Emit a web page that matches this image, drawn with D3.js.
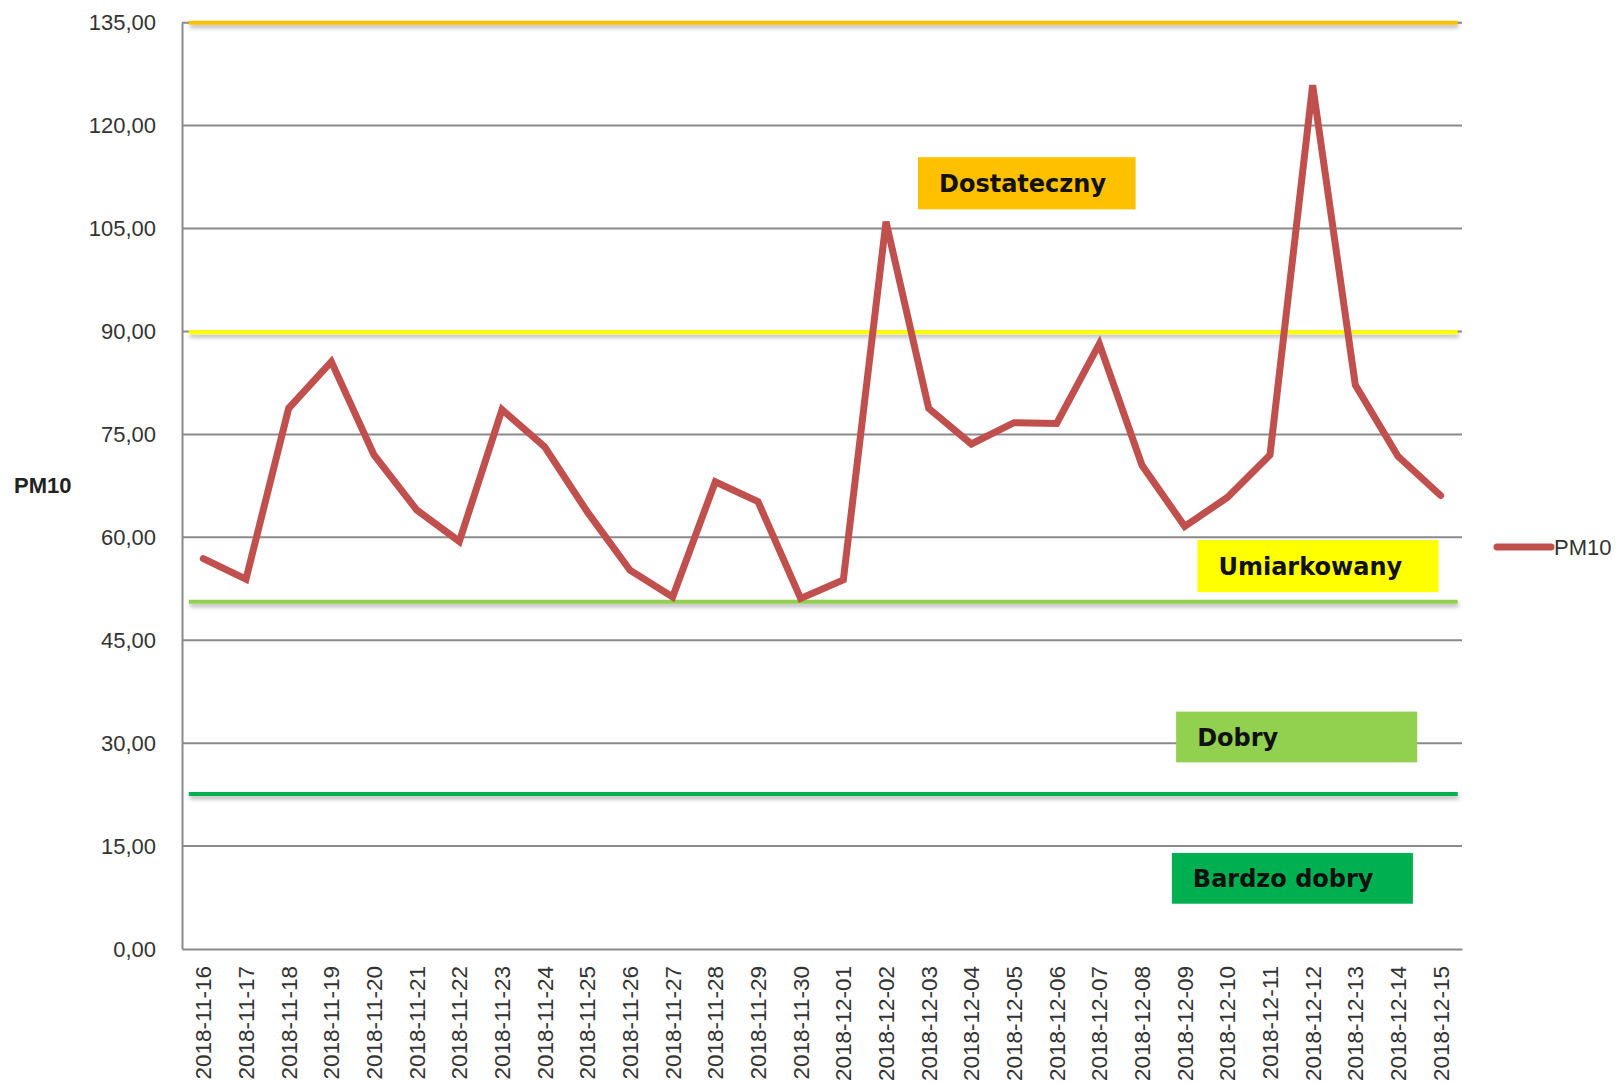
<!DOCTYPE html>
<html>
<head>
<meta charset="utf-8">
<script src="https://cdn.jsdelivr.net/npm/d3@7/dist/d3.min.js"></script>
<style>
  body { margin: 0; background: #fff; }
  svg { display: block; }
</style>
</head>
<body>
<div id="chart"></div>
<script>
// dates on the x axis
var dates = ["2018-11-16","2018-11-17","2018-11-18","2018-11-19","2018-11-20","2018-11-21","2018-11-22",
  "2018-11-23","2018-11-24","2018-11-25","2018-11-26","2018-11-27","2018-11-28","2018-11-29","2018-11-30",
  "2018-12-01","2018-12-02","2018-12-03","2018-12-04","2018-12-05","2018-12-06","2018-12-07","2018-12-08",
  "2018-12-09","2018-12-10","2018-12-11","2018-12-12","2018-12-13","2018-12-14","2018-12-15"];

// PM10 daily values
var pm10 = [56.9, 53.9, 78.8, 85.6, 72.0, 64.0, 59.4, 78.6, 73.2, 63.7, 55.2, 51.3, 68.1, 65.2, 51.1,
  53.8, 106.0, 78.8, 73.6, 76.7, 76.6, 88.2, 70.5, 61.6, 65.8, 72.0, 125.9, 82.2, 71.8, 66.1];

var yTicks = [0, 15, 30, 45, 60, 75, 90, 105, 120, 135];

// hand drawn class lines and their labels
var levelNames = ["Dostateczny", "Umiarkowany", "Dobry", "Bardzo dobry"];
var levelLines = [135, 89.9, 50.6, 22.6];
var levelColors = ["#FFC000", "#FFFF00", "#92D050", "#00B050"];

var W = 1623, H = 1085;
var margin = {top: 22.7, right: 161, bottom: 136, left: 182},
    width = W - margin.left - margin.right,
    height = H - margin.top - margin.bottom;

var svg = d3.select("#chart").append("svg")
    .attr("width", W)
    .attr("height", H);

var defs = svg.append("defs");
var f = defs.append("filter").attr("id", "shadow")
    .attr("filterUnits", "userSpaceOnUse")
    .attr("x", 0).attr("y", -50).attr("width", W).attr("height", H + 100);
f.append("feDropShadow").attr("dx", 1).attr("dy", 3).attr("stdDeviation", 2)
    .attr("flood-color", "#000").attr("flood-opacity", 0.3);

var g = svg.append("g")
    .attr("transform", "translate(" + margin.left + "," + margin.top + ")");

var x = d3.scaleBand().domain(dates).range([0, width]);
var xi = d3.scaleLinear().domain([0, dates.length]).range([0, width]); // category units, for annotations
var y = d3.scaleLinear().domain([0, 135]).range([height, 0]);

// gridlines
g.selectAll(".grid").data(yTicks.slice(1))
  .enter().append("line")
    .attr("x1", 0).attr("x2", width)
    .attr("y1", function(d) { return y(d); })
    .attr("y2", function(d) { return y(d); })
    .style("stroke", "#8a8a8a")
    .style("stroke-width", 2);

// y axis
var yAxis = g.append("g")
    .call(d3.axisLeft(y).tickValues(yTicks).tickSize(0).tickPadding(26)
      .tickFormat(function(d) { return d.toFixed(2).replace(".", ","); }));
yAxis.select(".domain").style("stroke", "#8a8a8a").style("stroke-width", 2);
yAxis.selectAll("text")
    .style("font-family", "'Liberation Sans', Arial, sans-serif")
    .style("font-size", "22px")
    .style("fill", "#333");

// x axis
var xAxis = g.append("g")
    .attr("transform", "translate(0," + height + ")")
    .call(d3.axisBottom(x).tickSize(0));
xAxis.select(".domain").style("stroke", "#8a8a8a").style("stroke-width", 2);
xAxis.selectAll("text")
    .attr("transform", "rotate(-90)")
    .attr("x", -17)
    .attr("y", 0)
    .attr("dy", "0.35em")
    .style("text-anchor", "end")
    .style("font-family", "'Liberation Sans', Arial, sans-serif")
    .style("font-size", "22.5px")
    .style("fill", "#333");

// axis title
svg.append("text")
    .attr("x", 14)
    .attr("y", 485)
    .attr("dy", "0.35em")
    .style("font-family", "'Liberation Sans', Arial, sans-serif")
    .style("font-weight", "bold")
    .style("font-size", "22px")
    .style("fill", "#222")
    .text("PM10");

// class lines
g.selectAll(".level").data(levelLines)
  .enter().append("line")
    .attr("x1", xi(0.16)).attr("x2", xi(29.9))
    .attr("y1", function(d) { return y(d); })
    .attr("y2", function(d) { return y(d); })
    .style("stroke", function(d, i) { return levelColors[i]; })
    .style("stroke-width", 4)
    .attr("filter", "url(#shadow)");

// series line
var line = d3.line()
    .x(function(d, i) { return x(dates[i]) + x.bandwidth() / 2; })
    .y(function(d) { return y(d); });

g.append("path")
    .datum(pm10)
    .attr("d", line)
    .style("fill", "none")
    .style("stroke", "#C0504D")
    .style("stroke-width", 7)
    .style("stroke-linecap", "round");

// class label boxes: [left, right] in category units, [bottom, top] in value units
var boxX = [[17.25, 22.35], [23.8, 29.45], [23.3, 28.95], [23.2, 28.85]];
var boxY = [[107.8, 115.4], [52.0, 59.6], [27.2, 34.6], [6.6, 14.0]];

var boxes = g.selectAll(".box").data(levelNames)
  .enter().append("g");

boxes.append("rect")
    .attr("x", function(d, i) { return xi(boxX[i][0]); })
    .attr("width", function(d, i) { return xi(boxX[i][1]) - xi(boxX[i][0]); })
    .attr("y", function(d, i) { return y(boxY[i][1]); })
    .attr("height", function(d, i) { return y(boxY[i][0]) - y(boxY[i][1]); })
    .style("fill", function(d, i) { return levelColors[i]; });

boxes.append("text")
    .attr("x", function(d, i) { return xi(boxX[i][0]) + 21; })
    .attr("y", function(d, i) { return (y(boxY[i][0]) + y(boxY[i][1])) / 2 + 9; })
    .style("font-family", "'DejaVu Sans', Verdana, sans-serif")
    .style("font-weight", "bold")
    .style("font-size", "24px")
    .style("fill", "#111")
    .text(function(d) { return d; });

// legend
var lg = svg.append("g").attr("transform", "translate(1497,547)");
lg.append("line")
    .attr("x1", 0).attr("x2", 54)
    .style("stroke", "#C0504D")
    .style("stroke-width", 7)
    .style("stroke-linecap", "round");
lg.append("text")
    .attr("x", 57)
    .attr("dy", "0.35em")
    .style("font-family", "'Liberation Sans', Arial, sans-serif")
    .style("font-size", "22px")
    .style("fill", "#333")
    .text("PM10");
</script>
</body>
</html>
